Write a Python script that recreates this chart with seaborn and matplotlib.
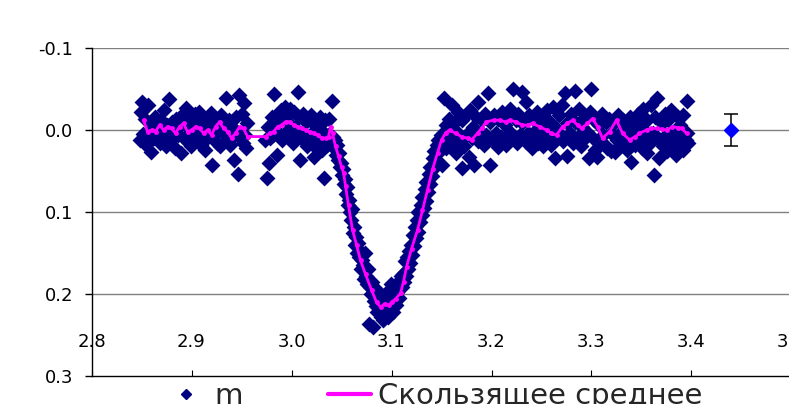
import numpy as np
import pandas as pd
import seaborn as sns
import matplotlib
matplotlib.use("Agg")
import matplotlib.pyplot as plt
from matplotlib.lines import Line2D

# --- data (phase, m) ---
# out of eclipse, left part
phase_a = [2.848, 2.849, 2.850, 2.851, 2.853, 2.854, 2.856, 2.857, 2.859, 2.860,
           2.862, 2.863, 2.865, 2.866, 2.868, 2.869, 2.871, 2.872, 2.874, 2.875,
           2.877, 2.878, 2.880, 2.881, 2.883, 2.884, 2.886, 2.887, 2.889, 2.890,
           2.892, 2.893, 2.894, 2.896, 2.897, 2.899, 2.900, 2.902, 2.903, 2.905,
           2.906, 2.907, 2.909, 2.910, 2.912, 2.913, 2.915, 2.916, 2.918, 2.919,
           2.920, 2.922, 2.923, 2.925, 2.926, 2.928, 2.929, 2.931, 2.932, 2.934,
           2.935, 2.937, 2.938, 2.940, 2.941, 2.942, 2.944, 2.945, 2.946, 2.947,
           2.949, 2.950, 2.951, 2.952, 2.953, 2.954, 2.955]
m_a = [0.012, -0.022, -0.034, 0.005, -0.013, 0.018, -0.030, 0.002, 0.027, -0.008,
       0.010, -0.016, 0.004, -0.004, 0.016, -0.012, 0.008, -0.024, 0.020, -0.006,
       -0.038, 0.012, -0.010, 0.002, 0.022, -0.014, 0.006, -0.004, 0.028, -0.018,
       0.010, -0.008, -0.027, 0.015, -0.002, 0.020, -0.012, 0.004, -0.020, 0.012,
       -0.006, -0.022, 0.018, 0.002, -0.014, 0.024, -0.004, 0.008, -0.016, -0.021,
       0.043, 0.006, -0.010, 0.016, -0.002, 0.020, -0.018, 0.004, -0.008, -0.039,
       0.012, -0.012, 0.018, -0.004, 0.008, 0.037, -0.016, 0.002, 0.054, -0.043,
       0.010, -0.020, 0.016, -0.033, 0.006, 0.022, -0.008]

# out of eclipse, before ingress
phase_c = [2.973, 2.975, 2.976, 2.977, 2.978, 2.980, 2.981, 2.982, 2.983, 2.985,
           2.986, 2.987, 2.989, 2.990, 2.991, 2.993, 2.994, 2.995, 2.997, 2.998,
           2.999, 3.001, 3.002, 3.003, 3.005, 3.006, 3.007, 3.008, 3.010, 3.011,
           3.012, 3.014, 3.015, 3.016, 3.018, 3.019, 3.020, 3.022, 3.023, 3.024,
           3.026, 3.027, 3.028, 3.030, 3.031, 3.032, 3.033, 3.035, 3.036, 3.037,
           3.038, 3.040]
m_c = [0.012, 0.059, -0.004, 0.040, 0.010, -0.016, 0.006, -0.044, -0.010, 0.031,
       -0.020, 0.004, -0.024, 0.012, -0.014, -0.028, 0.002, -0.018, 0.008, -0.026,
       -0.006, 0.016, -0.022, -0.002, 0.010, -0.046, -0.016, 0.037, 0.004, -0.020,
       0.014, -0.010, 0.020, -0.014, 0.006, -0.018, 0.016, 0.033, -0.006, 0.022,
       -0.012, 0.010, -0.016, 0.024, 0.002, 0.059, -0.012, 0.018, 0.006, -0.014,
       0.012, -0.035]

# eclipse
phase_d = [3.041, 3.042, 3.043, 3.044, 3.045, 3.046, 3.047, 3.048, 3.049, 3.050,
           3.051, 3.052, 3.053, 3.054, 3.055, 3.056, 3.057, 3.058, 3.059, 3.060,
           3.061, 3.062, 3.063, 3.064, 3.065, 3.066, 3.067, 3.068, 3.069, 3.070,
           3.071, 3.072, 3.073, 3.074, 3.075, 3.076, 3.077, 3.078, 3.079, 3.080,
           3.081, 3.082, 3.083, 3.084, 3.085, 3.086, 3.087, 3.088, 3.089, 3.090,
           3.091, 3.092, 3.093, 3.094, 3.095, 3.096, 3.097, 3.098, 3.099, 3.100,
           3.101, 3.102, 3.103, 3.104, 3.105, 3.106, 3.107, 3.108, 3.109, 3.110,
           3.111, 3.112, 3.113, 3.114, 3.115, 3.116, 3.117, 3.118, 3.119, 3.120,
           3.121, 3.122, 3.123, 3.124, 3.125, 3.126, 3.127, 3.128, 3.129, 3.130,
           3.131, 3.132, 3.133, 3.134, 3.135, 3.136, 3.137, 3.138, 3.139, 3.140,
           3.141, 3.142, 3.143, 3.144, 3.145, 3.146, 3.147, 3.148, 3.149, 3.150]
m_d = [0.008, 0.022, 0.012, 0.030, 0.018, 0.036, 0.028, 0.045, 0.040, 0.055,
       0.048, 0.066, 0.060, 0.078, 0.070, 0.092, 0.085, 0.100, 0.110, 0.096,
       0.125, 0.118, 0.140, 0.130, 0.150, 0.138, 0.155, 0.148, 0.170, 0.158,
       0.165, 0.182, 0.150, 0.178, 0.188, 0.170, 0.236, 0.192, 0.200, 0.185,
       0.240, 0.208, 0.198, 0.215, 0.222, 0.196, 0.205, 0.218, 0.228, 0.212,
       0.232, 0.205, 0.220, 0.200, 0.212, 0.228, 0.195, 0.210, 0.188, 0.205,
       0.222, 0.200, 0.190, 0.214, 0.198, 0.185, 0.205, 0.188, 0.178, 0.192,
       0.175, 0.185, 0.160, 0.178, 0.155, 0.170, 0.148, 0.162, 0.140, 0.152,
       0.128, 0.142, 0.118, 0.132, 0.110, 0.124, 0.100, 0.112, 0.092, 0.104,
       0.082, 0.095, 0.072, 0.086, 0.064, 0.076, 0.054, 0.066, 0.045, 0.056,
       0.034, 0.046, 0.026, 0.036, 0.018, 0.028, 0.012, 0.020, 0.006, 0.014]

# out of eclipse, right part
phase_e = [3.151, 3.152, 3.153, 3.154, 3.155, 3.157, 3.158, 3.160, 3.161, 3.162,
           3.164, 3.165, 3.166, 3.168, 3.170, 3.171, 3.172, 3.174, 3.175, 3.177,
           3.178, 3.180, 3.181, 3.183, 3.184, 3.186, 3.187, 3.189, 3.190, 3.192,
           3.193, 3.195, 3.196, 3.198, 3.199, 3.201, 3.202, 3.204, 3.206, 3.207,
           3.209, 3.210, 3.212, 3.213, 3.215, 3.216, 3.218, 3.219, 3.221, 3.222,
           3.224, 3.225, 3.227, 3.228, 3.230, 3.231, 3.233, 3.234, 3.236, 3.237,
           3.239, 3.240, 3.242, 3.243, 3.245, 3.246, 3.248, 3.249, 3.251, 3.252,
           3.254, 3.255, 3.257, 3.258, 3.260, 3.261, 3.263, 3.264, 3.266, 3.267,
           3.269, 3.270, 3.272, 3.273, 3.275, 3.276, 3.278, 3.279, 3.281, 3.283,
           3.284, 3.286, 3.287, 3.289, 3.290, 3.292, 3.293, 3.295, 3.297, 3.298,
           3.300, 3.301, 3.302, 3.304, 3.305, 3.307, 3.308, 3.310, 3.311, 3.313,
           3.314, 3.316, 3.317, 3.319, 3.320, 3.322, 3.323, 3.325, 3.326, 3.328,
           3.329, 3.331, 3.332, 3.334, 3.335, 3.337, 3.338, 3.340, 3.341, 3.343,
           3.344, 3.346, 3.347, 3.349, 3.350, 3.352, 3.353, 3.355, 3.356, 3.358,
           3.359, 3.361, 3.362, 3.364, 3.365, 3.367, 3.368, 3.370, 3.371, 3.373,
           3.374, 3.376, 3.377, 3.379, 3.380, 3.382, 3.383, 3.385, 3.386, 3.388,
           3.389, 3.391, 3.392, 3.394, 3.395, 3.396, 3.397]
m_e = [0.043, -0.039, 0.010, -0.006, 0.022, -0.014, 0.004, -0.031, 0.016, -0.008,
       0.028, 0.002, -0.022, 0.012, 0.046, -0.012, 0.020, -0.018, 0.006, 0.033,
       -0.024, 0.010, -0.004, 0.043, -0.016, 0.014, -0.034, 0.002, -0.012, 0.018,
       -0.020, 0.006, -0.045, 0.043, -0.010, 0.012, -0.018, 0.004, 0.021, -0.014,
       0.008, -0.022, 0.014, -0.006, 0.018, -0.016, 0.002, -0.026, -0.050, 0.010,
       -0.012, 0.016, -0.020, 0.006, -0.008, -0.046, 0.014, -0.034, 0.004, -0.018,
       0.010, 0.022, -0.012, 0.002, -0.022, 0.016, -0.006, 0.008, -0.016, 0.020,
       -0.002, -0.024, 0.012, -0.010, 0.018, -0.028, 0.034, -0.004, 0.010, -0.018,
       0.006, -0.030, 0.014, -0.045, -0.008, 0.032, 0.004, -0.020, 0.016, -0.048,
       -0.010, 0.008, -0.026, 0.020, -0.004, 0.012, -0.016, 0.002, 0.034, -0.022,
       -0.050, 0.010, -0.012, 0.024, 0.033, -0.006, 0.014, -0.020, 0.006, 0.018,
       -0.010, 0.022, -0.014, 0.004, 0.026, -0.008, 0.027, 0.012, -0.018, 0.020,
       0.002, -0.012, 0.016, -0.004, 0.024, 0.008, -0.016, 0.039, 0.004, -0.010,
       0.018, -0.020, 0.012, -0.004, 0.022, -0.026, 0.008, 0.028, -0.012, 0.016,
       -0.030, 0.004, 0.055, -0.016, -0.039, 0.012, 0.034, -0.008, 0.020, -0.020,
       0.006, 0.026, -0.012, 0.014, -0.024, 0.002, 0.018, 0.031, -0.016, 0.010,
       -0.006, 0.024, -0.018, 0.012, -0.035, 0.004, 0.016]

# moving average ("Скользящее среднее")
ma_phase = [2.852, 2.856, 2.860, 2.864, 2.868, 2.872, 2.876, 2.880, 2.884, 2.888,
            2.892, 2.896, 2.900, 2.904, 2.908, 2.912, 2.916, 2.920, 2.924, 2.928,
            2.932, 2.936, 2.940, 2.944, 2.948, 2.952, 2.956, 2.974, 2.978, 2.982,
            2.986, 2.990, 2.994, 2.998, 3.002, 3.006, 3.010, 3.014, 3.018, 3.022,
            3.026, 3.030, 3.034, 3.037, 3.039, 3.041, 3.044, 3.047, 3.050, 3.052,
            3.054, 3.057, 3.061, 3.065, 3.069, 3.074, 3.080, 3.085, 3.089, 3.093,
            3.097, 3.100, 3.104, 3.109, 3.112, 3.115, 3.120, 3.126, 3.131, 3.136,
            3.141, 3.146, 3.150, 3.154, 3.158, 3.164, 3.170, 3.176, 3.180, 3.186,
            3.190, 3.195, 3.202, 3.208, 3.214, 3.218, 3.224, 3.231, 3.236, 3.241,
            3.248, 3.255, 3.260, 3.265, 3.271, 3.276, 3.281, 3.286, 3.290, 3.296,
            3.301, 3.306, 3.311, 3.318, 3.325, 3.331, 3.338, 3.344, 3.348, 3.355,
            3.360, 3.365, 3.370, 3.375, 3.381, 3.386, 3.390, 3.395]
ma_m = [-0.012, 0.002, 0.000, 0.002, -0.006, 0.000, -0.004, -0.002, 0.004, -0.004,
        -0.008, 0.002, 0.000, -0.004, -0.002, 0.004, 0.000, 0.006, -0.004, -0.010,
        -0.002, 0.002, 0.010, 0.004, -0.004, -0.002, 0.008, 0.008, 0.004, 0.002,
        -0.004, -0.006, -0.010, -0.010, -0.006, -0.004, -0.002, 0.000, 0.002, 0.004,
        0.006, 0.010, 0.010, 0.008, -0.004, 0.004, 0.020, 0.032, 0.045, 0.052,
        0.068, 0.092, 0.122, 0.140, 0.159, 0.176, 0.195, 0.210, 0.216, 0.212,
        0.214, 0.210, 0.206, 0.199, 0.185, 0.167, 0.145, 0.122, 0.098, 0.073,
        0.048, 0.028, 0.012, 0.004, 0.000, 0.004, 0.008, 0.010, 0.012, 0.004,
        -0.002, -0.010, -0.012, -0.012, -0.010, -0.012, -0.010, -0.006, -0.006, -0.008,
        -0.004, 0.000, 0.004, 0.006, -0.004, -0.008, -0.012, -0.006, -0.002, -0.008,
        -0.014, -0.004, 0.010, 0.002, -0.012, 0.004, 0.012, 0.008, 0.004, 0.000,
        -0.002, -0.002, -0.001, 0.000, -0.004, -0.003, -0.002, 0.004]

# point with typical error
err_phase = [3.44]
err_m = [0.0]
err_size = [0.019]

phase = phase_a + phase_c + phase_d + phase_e
mags = m_a + m_c + m_d + m_e
df = pd.DataFrame({"phase": phase, "m": mags})
df_ma = pd.DataFrame({"phase": ma_phase, "m": ma_m})

sns.set_theme(style="white")
plt.rcParams["font.family"] = ["DejaVu Sans"]

fig = plt.figure(figsize=(7.89, 4.04), dpi=100)
ax = fig.add_axes([91.5 / 789, 1 - 376 / 404, 700 / 789, 328 / 404])

sns.scatterplot(data=df, x="phase", y="m", marker="D", s=66, color="#000080",
                linewidth=0, ax=ax, zorder=2, legend=False)
sns.lineplot(data=df_ma, x="phase", y="m", sort=False, color="#FF00FF", linewidth=2.0,
             marker="o", markersize=3.5, markeredgewidth=0, ax=ax, zorder=3, legend=False)
ax.errorbar(err_phase, err_m, yerr=err_size, fmt="D", color="#0000FF", markersize=7,
            ecolor="black", elinewidth=1.1, capsize=4.7, capthick=1.1, zorder=4)

ax.set_xlim(2.8, 3.5)
ax.set_ylim(0.3, -0.1)
ax.set_xticks([2.8, 2.9, 3.0, 3.1, 3.2, 3.3, 3.4, 3.5])
ax.set_xticklabels(["2.8", "2.9", "3.0", "3.1", "3.2", "3.3", "3.4", "3.5"])
ax.set_yticks([-0.1, 0.0, 0.1, 0.2, 0.3])
ax.set_yticklabels(["-0.1", "0.0", "0.1", "0.2", "0.3"])
ax.set_xlabel("")
ax.set_ylabel("")

for yv in [-0.1, 0.0, 0.1, 0.2]:
    ax.axhline(yv, color="#808080", linewidth=1.0, zorder=1)

for side in ["top", "right"]:
    ax.spines[side].set_visible(False)
for side in ["left", "bottom"]:
    ax.spines[side].set_color("black")
    ax.spines[side].set_linewidth(1.0)

ax.tick_params(axis="y", direction="out", length=5, width=1, color="black",
               labelsize=13, labelcolor="black", pad=8, left=True)
ax.tick_params(axis="x", direction="in", length=4.3, width=0.8, color="black",
               labelsize=13, labelcolor="black", pad=-31, bottom=True)
for lab in ax.get_xticklabels():
    lab.set_clip_on(False)

handles = [Line2D([], [], marker="D", color="#000080", linestyle="none", markersize=5.5),
           Line2D([], [], color="#FF00FF", linewidth=3)]
fig.legend(handles, ["m", "Скользящее среднее"], loc="center left",
           bbox_to_anchor=(164.5 / 789, 1 - 396 / 404), ncol=2, frameon=False,
           fontsize=21, handlelength=1.47, handletextpad=0.25, columnspacing=2.9,
           borderpad=0, borderaxespad=0)

fig.savefig("out.png", dpi=100)
